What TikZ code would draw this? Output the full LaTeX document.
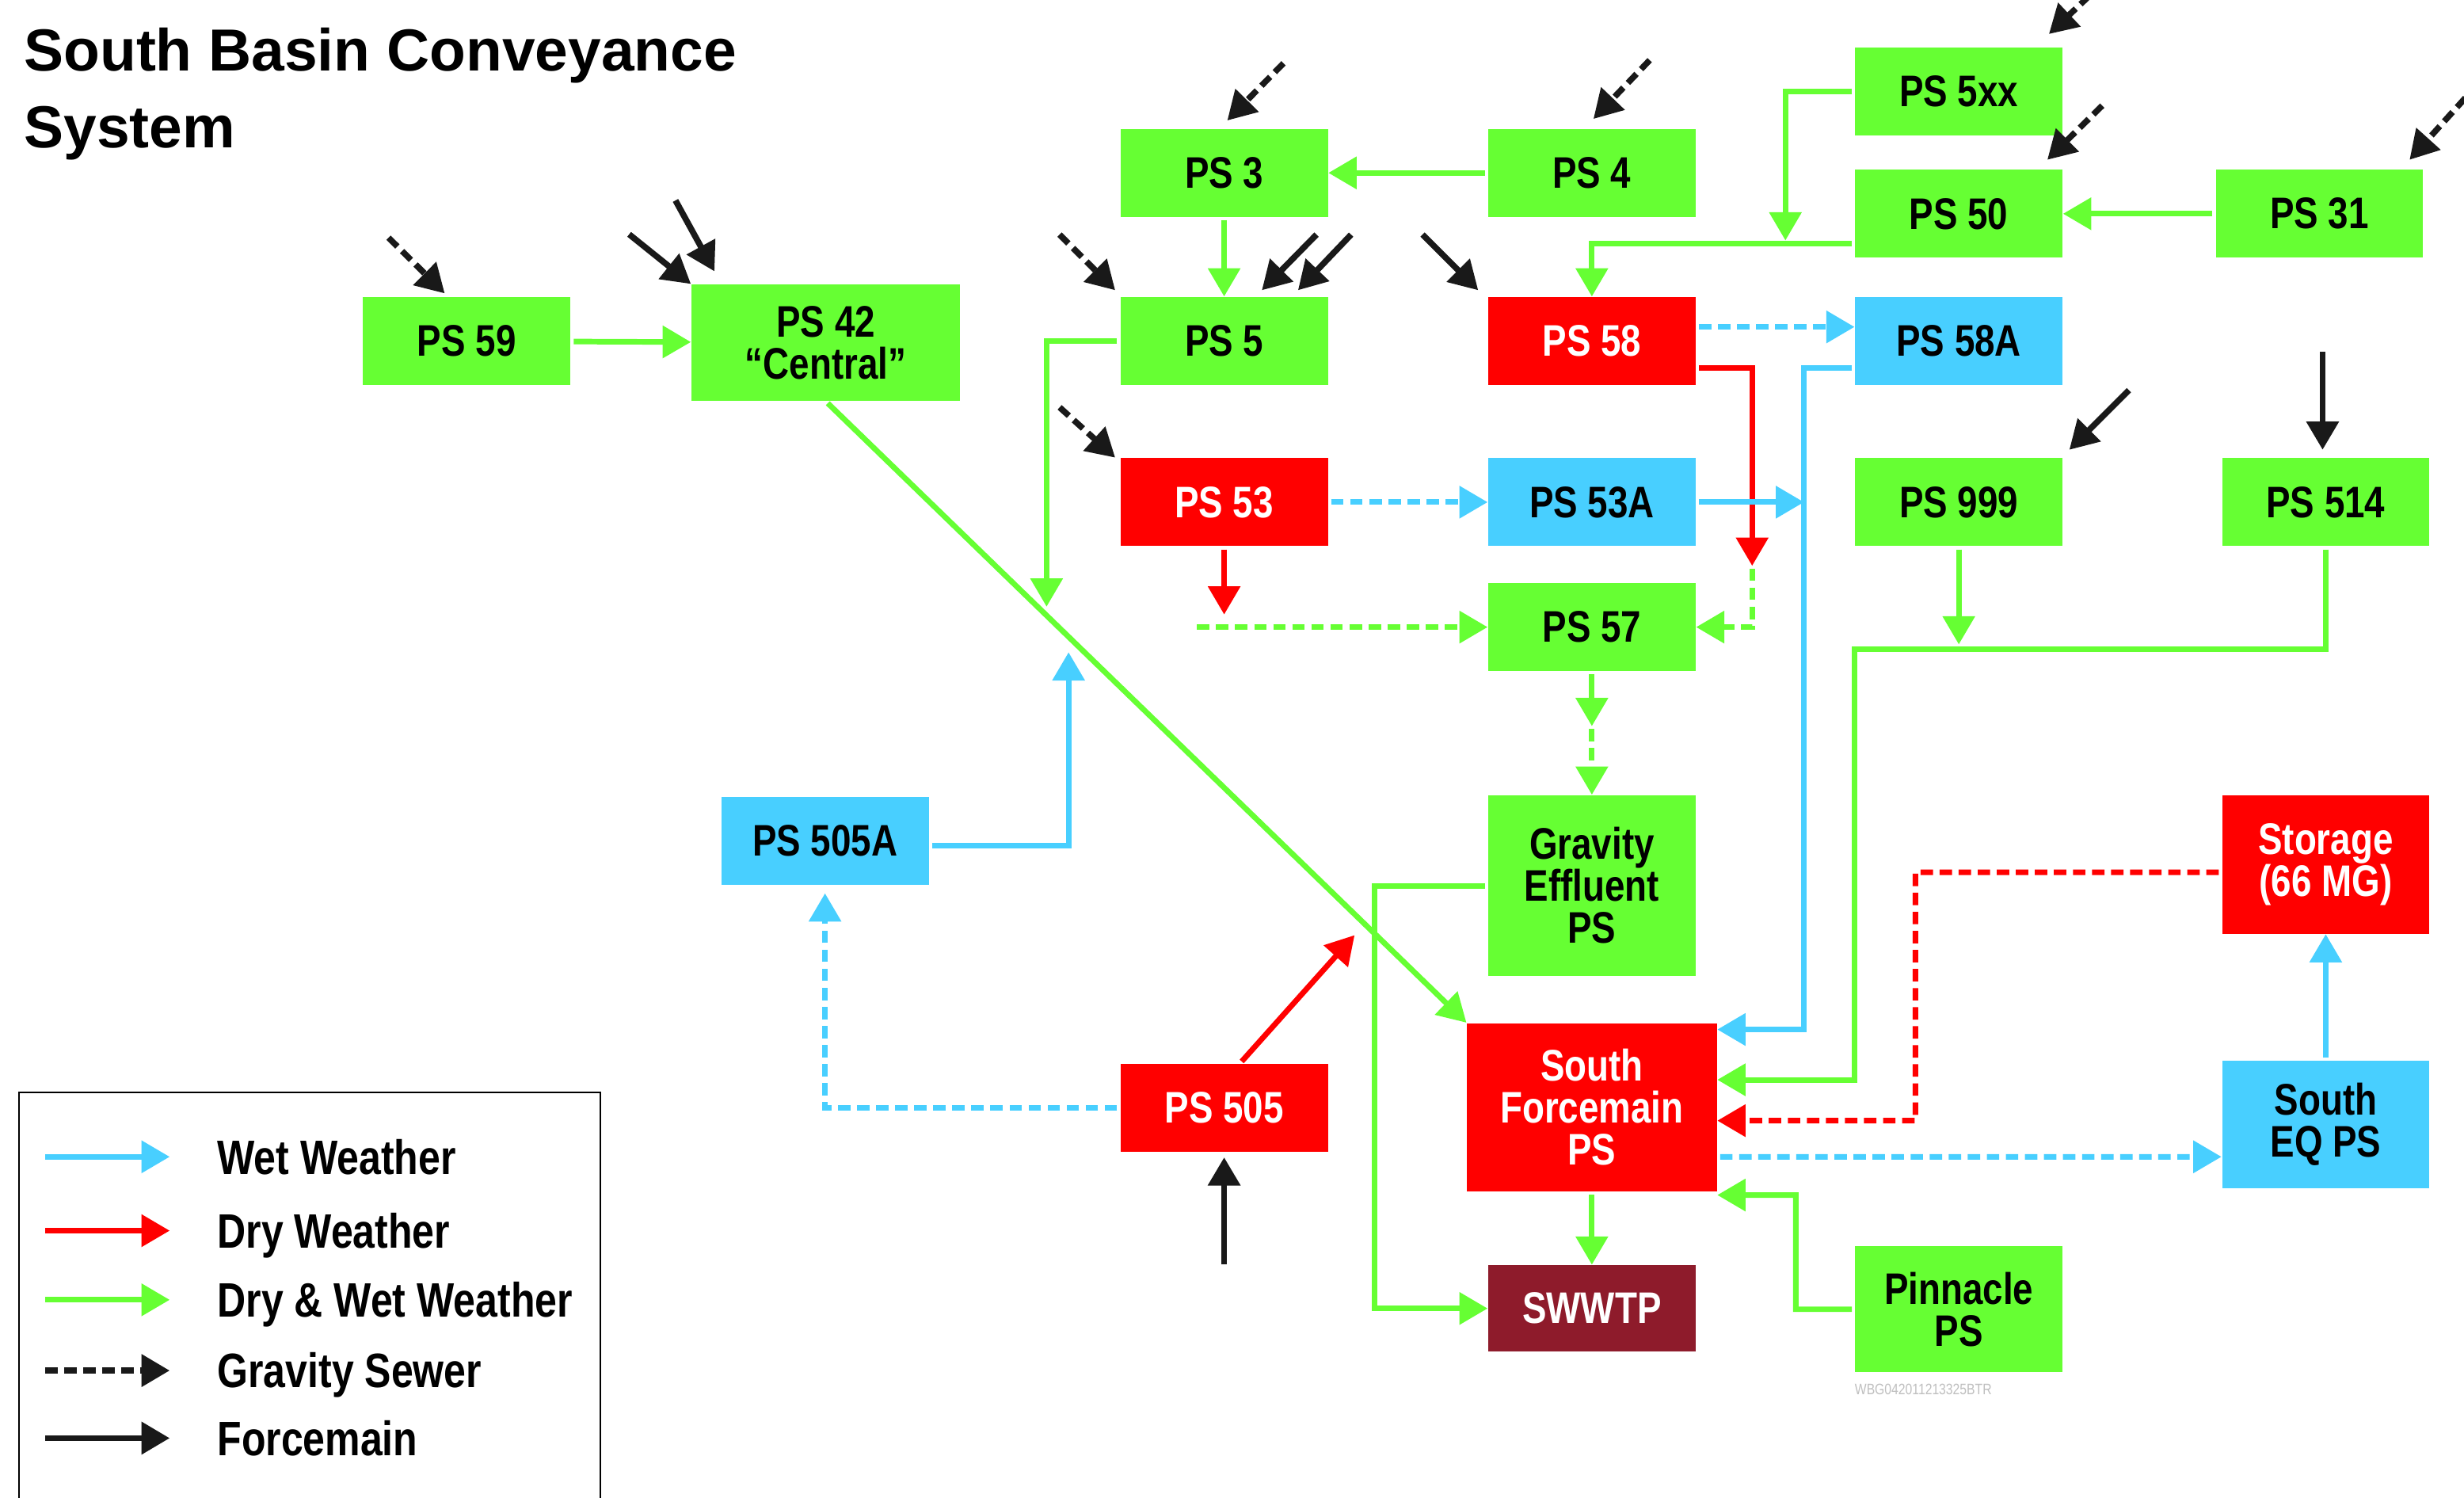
\documentclass[tikz,border=0pt]{standalone}
\usepackage{fontspec}
\setmainfont{Liberation Sans}
\newfontfamily\narrowfont{Liberation Sans}[FakeStretch=0.82]
\usepackage{tikz}
\usetikzlibrary{arrows.meta,calc,positioning}
\definecolor{dwgreen}{HTML}{66FF33}
\definecolor{dryred}{HTML}{FF0000}
\definecolor{wetblue}{HTML}{48CFFF}
\definecolor{plantred}{HTML}{8E1B2B}

\begin{document}
\begin{tikzpicture}[->,>={Triangle[length=0.36cm,width=0.4cm]},x=0.02cm,y=-0.02cm,
	box/.style={font=\narrowfont\bfseries\fontsize{16}{15.2}\selectfont,align=center,
		minimum width=2.64cm,minimum height=1.12cm,inner sep=0pt},
	green node/.style={box,fill=dwgreen},
	red node/.style={box,fill=dryred,text=white},
	blue node/.style={box,fill=wetblue},
	plant node/.style={box,fill=plantred,text=white},
	pipe/.style={line width=2pt,shorten <=1pt},
	wet line/.style={pipe,draw=wetblue},
	dry line/.style={pipe,draw=dryred},
	both line/.style={pipe,draw=dwgreen},
	force line/.style={pipe,draw=black!90,line width=2.2pt},
	sewer/.style={dash pattern=on 4.5pt off 2.4pt},
	key/.style={font=\narrowfont\bfseries\fontsize{17.5}{18}\selectfont,anchor=west,
		inner sep=0pt,text height=12.5pt,text depth=0pt}]

	\useasboundingbox[fill=white] (0,0) rectangle (1568,953);

	\node[anchor=base west,align=left,inner sep=0pt,font=\bfseries\fontsize{21.5}{27.8}\selectfont]
		(title) at (15,94) {South Basin Conveyance\\System};

	% stations
	\node[green node] (59) at (297,217) {PS 59};
	\node[green node,minimum width=3.42cm,minimum height=1.48cm] (42) at (525.5,218) {PS 42\\“Central”};
	\node[green node] (3) at (779,110) {PS 3};
	\node[green node] (4) at (1013,110) {PS 4};
	\node[green node] (5xx) at (1246.5,58) {PS 5xx};
	\node[green node] (50) at (1246.5,136) {PS 50};
	\node[green node] (31) at (1476,136) {PS 31};
	\node[green node] (5) at (779,217) {PS 5};
	\node[red node] (58) at (1013,217) {PS 58};
	\node[blue node] (58A) at (1246.5,217) {PS 58A};
	\node[red node] (53) at (779,319.5) {PS 53};
	\node[blue node] (53A) at (1013,319.5) {PS 53A};
	\node[green node] (999) at (1246.5,319.5) {PS 999};
	\node[green node] (514) at (1480,319.5) {PS 514};
	\node[green node] (57) at (1013,399) {PS 57};
	\node[green node,minimum height=2.3cm] (gravity) at (1013,563.5) {Gravity\\Effluent\\PS};
	\node[blue node] (505A) at (525,535) {PS 505A};
	\node[red node,minimum height=1.76cm] (storage) at (1480,550) {Storage\\(66 MG)};
	\node[red node,minimum width=3.18cm,minimum height=2.14cm] (sfps) at (1013,704.5) {South\\Forcemain\\PS};
	\node[red node] (505) at (779,705) {PS 505};
	\node[blue node,minimum height=1.62cm] (southeq) at (1480,715.5) {South\\EQ PS};
	\node[plant node,minimum height=1.1cm] (swwtp) at (1013,832.5) {SWWTP};
	\node[green node,minimum height=1.6cm] (pinnacle) at (1246.5,833) {Pinnacle\\PS};
	\node[anchor=west,inner sep=0pt,text=black!25,font=\narrowfont\fontsize{5.5}{6}\selectfont]
		(code) at (1180,884) {WBG042011213325BTR};

	% incoming sewers and forcemains
	\coordinate (in59) at (246,150);
	\coordinate (in42a) at (399,148);
	\coordinate (in42b) at (429,126);
	\coordinate (in3) at (818,39);
	\coordinate (in4) at (1051,37);
	\coordinate (in5a) at (673,148);
	\coordinate (in5b) at (839,148);
	\coordinate (in5c) at (861,148);
	\coordinate (in58) at (904,148);
	\coordinate (in5xx) at (1331,-4);
	\coordinate (in50) at (1339,66);
	\coordinate (in31) at (1570,61);
	\coordinate (in53) at (673,258);
	\coordinate (in999) at (1356,247);
	\coordinate (in514) at (1478,222);
	\coordinate (in505) at (779,806);

	\draw[force line,sewer] (in59) -- ($(59.north)+(-14,-2)$);
	\draw[force line] (in42a) -- (42.north west);
	\draw[force line] (in42b) -- ($(42.north west)+(15,-8)$);
	\draw[force line,sewer] (in3) -- ($(3.north)+(2,-5)$);
	\draw[force line,sewer] (in4) -- ($(4.north)+(1,-6)$);
	\draw[force line,sewer] (in5a) -- ($(5.north west)+(-3,-4)$);
	\draw[force line] (in5b) -- ($(5.north)+(24,-4)$);
	\draw[force line] (in5c) -- ($(5.north)+(47,-4)$);
	\draw[force line] (in58) -- ($(58.north west)+(-6,-4)$);
	\draw[force line,sewer] (in5xx) -- ($(5xx.north east)+(-9,-8)$);
	\draw[force line,sewer] (in50) -- ($(50.north east)+(-10,-6)$);
	\draw[force line,sewer] (in31) -- ($(31.north east)+(-9,-6)$);
	\draw[force line,sewer] (in53) -- ($(53.north west)+(-3,0)$);
	\draw[force line] (in999) -- ($(999.north east)+(4,-5)$);
	\draw[force line] (in514) -- ($(514.north)+(-2,-5)$);
	\draw[force line] (in505) -- ($(505.south)+(0,3)$);

	% straight links
	\draw[both line] (59) -- (42);
	\draw[both line] (4) -- (3);
	\draw[both line] (3) -- (5);
	\draw[both line] (31) -- (50);
	\draw[both line] (sfps) -- (swwtp);

	\draw[both line] (5xx.west) -| ($(50.west)+(-44,17)$);
	\draw[both line] ([yshift=-0.38cm]50.west) -| (58.north);
	\draw[wet line,sewer] ([yshift=0.18cm]58.east) -- ([yshift=0.18cm]58A.west);

	\coordinate (j57) at (1115,360);
	\draw[dry line] ([yshift=-0.34cm]58.east) -| (j57);
	\draw[both line,sewer] (j57) |- (57.east);

	\draw[wet line,sewer] (53) -- (53A);
	\coordinate (trunk) at (1148,319.5);
	\draw[wet line] (53A) -- (trunk);
	\draw[wet line] ([yshift=-0.34cm]58A.west) -| (trunk) |- ([yshift=0.99cm]sfps.east);

	\coordinate (j53) at (779,391);
	\coordinate (g57) at (760,399);
	\draw[dry line] (53) -- (j53);
	\draw[both line,sewer] (g57) -- (57.west);

	\coordinate (j57b) at (1013,462);
	\draw[both line] (57) -- (j57b);
	\draw[both line,sewer] (j57b) -- (gravity);
	\draw[both line] (gravity.west) -| ($(swwtp.west)+(-72,0)$) -- (swwtp.west);

	\draw[both line] (42.south) -- (sfps.north west);
	\coordinate (j5) at (666,386);
	\draw[both line] (5.west) -| (j5);

	\coordinate (j505A) at (680,415);
	\draw[wet line] ([yshift=-0.06cm]505A.east) -| (j505A);
	\draw[wet line,sewer,shorten >=0.1cm] (505.west) -| (505A.south);
	\coordinate (j505) at (862,595);
	\draw[dry line] ($(505.north)+(10,0)$) -- (j505);

	\coordinate (j999) at (1246.5,410);
	\coordinate (bend514) at (1180,413);
	\draw[both line] (999) -- (j999);
	\draw[both line] (514.south) |- (bend514) |- ([yshift=0.35cm]sfps.east);

	\draw[dry line,sewer] ([yshift=-0.1cm]storage.west) -| ($(sfps.east)+(126,8.5)$) -- ([yshift=-0.17cm]sfps.east);
	\draw[wet line,sewer] ([yshift=-0.63cm]sfps.east) -- ([yshift=-0.41cm]southeq.west);
	\draw[wet line] (southeq) -- (storage);
	\draw[both line] (pinnacle.west) -| ($(sfps.south east)+(50,2)$) -- ([yshift=-0.04cm]sfps.south east);

	% legend
	\draw[-,line width=0.6pt] (12,695) rectangle (382,990);
	\node[key] (k1) at (138,736) {Wet Weather};
	\node[key] (k2) at (138,783) {Dry Weather};
	\node[key] (k3) at (138,827) {Dry \& Wet Weather};
	\node[key] (k4) at (138,872) {Gravity Sewer};
	\node[key] (k5) at (138,915) {Forcemain};
	\coordinate (s1) at (27,736);
	\coordinate (s2) at (27,783);
	\coordinate (s3) at (27,827);
	\coordinate (s4) at (27,872);
	\coordinate (s5) at (27,915);
	\draw[wet line] (s1) -- ([xshift=-0.6cm]k1.west);
	\draw[dry line] (s2) -- ([xshift=-0.6cm]k2.west);
	\draw[both line] (s3) -- ([xshift=-0.6cm]k3.west);
	\draw[force line,sewer] (s4) -- ([xshift=-0.6cm]k4.west);
	\draw[force line] (s5) -- ([xshift=-0.6cm]k5.west);

\end{tikzpicture}
\end{document}
